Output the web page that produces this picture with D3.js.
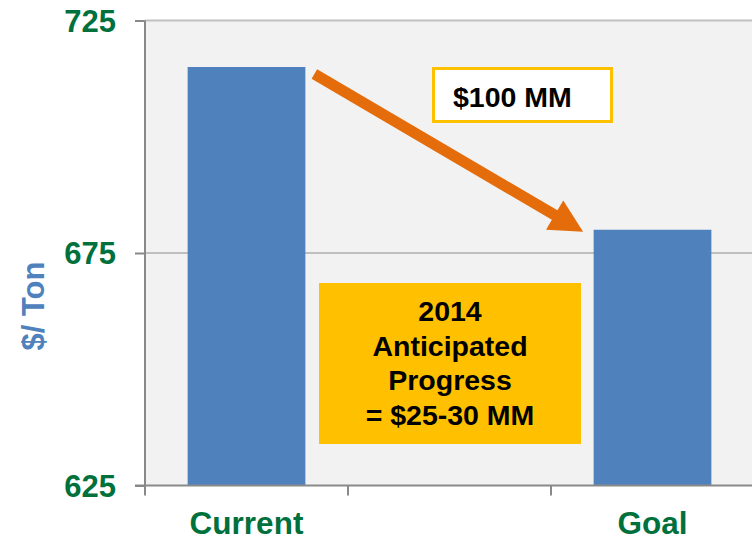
<!DOCTYPE html>
<html>
<head>
<meta charset="utf-8">
<script src="https://cdn.jsdelivr.net/npm/d3@7"></script>
<style>
  body { margin: 0; background: #fff; }
  text { font-family: Arial, "Liberation Sans", sans-serif; font-weight: bold; }
</style>
</head>
<body>
<script>
// data
var categories = ["Current", "gap", "Goal"];
var catLabels = ["Current", "", "Goal"];
var values = [715, null, 680];
var yTicks = [625, 675, 725];
var yTitle = "$/ Ton";
var savingsLabel = "$100 MM";
var progressLines = ["2014", "Anticipated", "Progress", "= $25-30 MM"];

var w = 752;
var h = 539;
var plotLeft = 145, plotTop = 20.5, plotRight = 754, plotBottom = 485.5;

var green = "#00703c";
var barColor = "#4f81bd";
var gold = "#ffc000";
var orange = "#e46c0a";

var svg = d3.select("body")
  .append("svg")
  .attr("width", w)
  .attr("height", h);

var x = d3.scaleBand()
  .domain(categories)
  .range([plotLeft, plotRight])
  .paddingInner(0.42)
  .paddingOuter(0.21);

var y = d3.scaleLinear()
  .domain([625, 725])
  .range([plotBottom, plotTop]);

// plot background
svg.append("rect")
  .attr("x", plotLeft)
  .attr("y", plotTop)
  .attr("width", w - plotLeft)
  .attr("height", plotBottom - plotTop)
  .attr("fill", "#f2f2f2");

// gridlines
svg.append("g").selectAll("line")
  .data(yTicks.filter(function(d) { return d > 625; }))
  .enter()
  .append("line")
  .attr("x1", plotLeft)
  .attr("x2", w)
  .attr("y1", function(d) { return y(d); })
  .attr("y2", function(d) { return y(d); })
  .attr("stroke", "#bfbfbf")
  .attr("stroke-width", 2);

// bars
var data = categories.map(function(c, i) { return { key: c, value: values[i] }; })
  .filter(function(d) { return d.value != null; });

svg.append("g").selectAll("rect")
  .data(data)
  .enter()
  .append("rect")
  .attr("x", function(d) { return x(d.key); })
  .attr("y", function(d) { return y(d.value); })
  .attr("width", x.bandwidth())
  .attr("height", function(d) { return plotBottom - y(d.value); })
  .attr("fill", barColor);

// y axis
var yAxis = svg.append("g")
  .attr("transform", "translate(" + plotLeft + ",0)")
  .call(d3.axisLeft(y).tickValues(yTicks).tickSize(10).tickPadding(19).tickFormat(d3.format("d")));
yAxis.select(".domain").attr("stroke", "#898989").attr("stroke-width", 2).attr("d", "M0," + plotTop + "V" + plotBottom);
yAxis.selectAll(".tick line").attr("stroke", "#898989").attr("stroke-width", 2);
yAxis.selectAll(".tick text")
  .attr("fill", green)
  .attr("font-size", "31px")
  .attr("font-family", "Arial, 'Liberation Sans', sans-serif")
  .attr("dy", "0.34em");

// x axis: baseline with ticks at band boundaries
var xg = svg.append("g");
xg.append("line")
  .attr("x1", plotLeft - 10)
  .attr("x2", w)
  .attr("y1", plotBottom)
  .attr("y2", plotBottom)
  .attr("stroke", "#898989")
  .attr("stroke-width", 2);
xg.selectAll(".xtick")
  .data(categories)
  .enter()
  .append("line")
  .attr("class", "xtick")
  .attr("x1", function(d) { return x(d) - x.step() * x.paddingOuter(); })
  .attr("x2", function(d) { return x(d) - x.step() * x.paddingOuter(); })
  .attr("y1", plotBottom)
  .attr("y2", plotBottom + 10)
  .attr("stroke", "#898989")
  .attr("stroke-width", 2);
xg.selectAll(".xlabel")
  .data(categories)
  .enter()
  .append("text")
  .attr("class", "xlabel")
  .attr("x", function(d) { return x(d) + x.bandwidth() / 2; })
  .attr("y", 534)
  .attr("text-anchor", "middle")
  .attr("font-size", "31.5px")
  .attr("fill", green)
  .text(function(d, i) { return catLabels[i]; });

// y title
svg.append("text")
  .attr("transform", "translate(44,306) rotate(-90)")
  .attr("text-anchor", "middle")
  .attr("font-size", "31px")
  .attr("fill", barColor)
  .text(yTitle);

// arrow from Current bar to Goal bar
var x0 = x("Current") + x.bandwidth() + 9, y0 = y(values[0]) + 7;
var x1 = x("Goal") - 10.5, y1 = y(values[2]) + 2;
var dx = x1 - x0, dy = y1 - y0, len = Math.sqrt(dx * dx + dy * dy);
var ux = dx / len, uy = dy / len, px = -uy, py = ux;
var shaft = 5.5, head = 17, headLen = 33;
var bx = x1 - ux * headLen, by = y1 - uy * headLen;
var pts = [
  [x0 + px * shaft, y0 + py * shaft],
  [bx + px * shaft, by + py * shaft],
  [bx + px * head, by + py * head],
  [x1, y1],
  [bx - px * head, by - py * head],
  [bx - px * shaft, by - py * shaft],
  [x0 - px * shaft, y0 - py * shaft]
];
svg.append("path")
  .attr("d", "M" + pts.map(function(p) { return p[0] + "," + p[1]; }).join("L") + "Z")
  .attr("fill", orange);

// $100 MM callout
svg.append("rect")
  .attr("x", 433.5)
  .attr("y", 68.5)
  .attr("width", 178)
  .attr("height", 53)
  .attr("fill", "#fff")
  .attr("stroke", gold)
  .attr("stroke-width", 3);
svg.append("text")
  .attr("x", 453)
  .attr("y", 107)
  .attr("font-size", "28.5px")
  .attr("fill", "#000")
  .text(savingsLabel);

// 2014 progress box
svg.append("rect")
  .attr("x", 319)
  .attr("y", 283)
  .attr("width", 262)
  .attr("height", 161)
  .attr("fill", gold);
svg.append("g").selectAll("text")
  .data(progressLines)
  .enter()
  .append("text")
  .attr("x", 450)
  .attr("y", function(d, i) { return 321 + i * 34.7; })
  .attr("text-anchor", "middle")
  .attr("font-size", "28.5px")
  .attr("fill", "#000")
  .text(function(d) { return d; });
</script>
</body>
</html>
